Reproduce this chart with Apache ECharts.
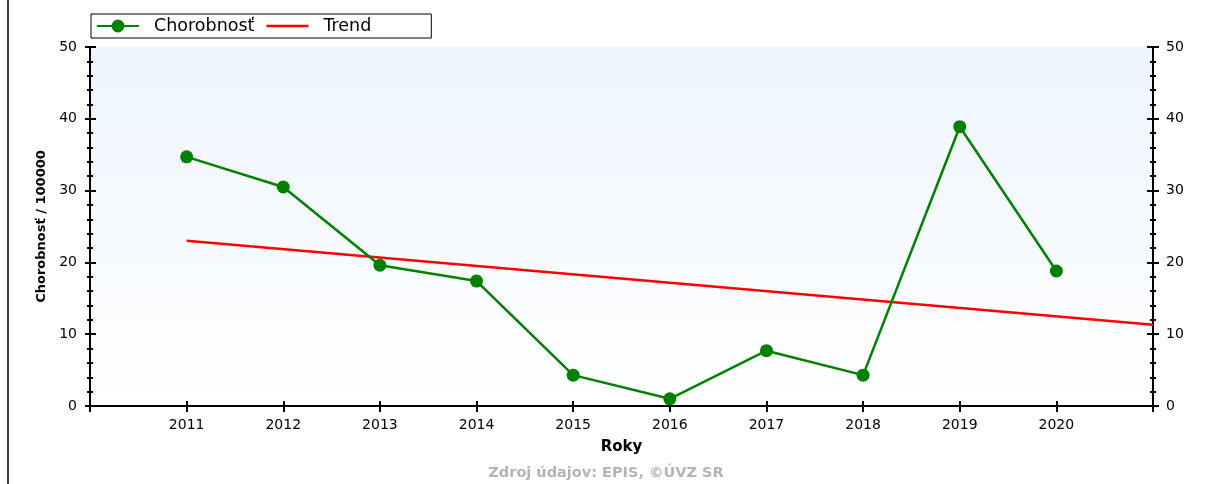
<!DOCTYPE html>
<html>
<head>
<meta charset="utf-8">
<script src="https://cdn.jsdelivr.net/npm/echarts@6/dist/echarts.min.js"></script>
<style>
  html, body { margin: 0; padding: 0; background: #fff; }
  #main { width: 1212px; height: 484px; }
</style>
</head>
<body>
<div id="main"></div>
<script>
// roky a chorobnost na 100000
const years = [2011, 2012, 2013, 2014, 2015, 2016, 2017, 2018, 2019, 2020]
const incidence = [34.7, 30.5, 19.6, 17.4, 4.3, 1.0, 7.7, 4.3, 38.9, 18.8]
// trend - koncove body odcitane z grafu
const trendYears = [2011, 2021]
const trendValues = [23.0, 11.3]
const yTicks = [0, 10, 20, 30, 40, 50]

const FONT = 'DejaVu Sans'
const tickColor = '#000'

let chart = echarts.init(document.getElementById('main'))

// spolocne nastavenie osi (ciara + ticky)
const axisLine = { show: true, lineStyle: { color: tickColor, width: 2 } }

let option = {
  backgroundColor: '#fff',
  animation: false,
  textStyle: { fontFamily: FONT },
  legend: {
    left: 91,
    top: 14,
    padding: [3, 60, 3, 5],
    itemGap: 12,
    itemWidth: 42,
    itemHeight: 16,
    borderColor: '#000',
    borderWidth: 1,
    borderRadius: 0,
    textStyle: { fontSize: 17.5, color: '#000', fontFamily: FONT, padding: [0, 0, 0, 10], lineHeight: 16 },
    data: [
      { name: 'Chorobnosť' },
      { name: 'Trend', icon: 'path://M0,0H42V2.5H0Z', itemStyle: { color: '#ff0000' } }
    ]
  },
  grid: {
    left: 90,
    right: 59,
    top: 47,
    bottom: 78,
    show: true,
    borderWidth: 0,
    backgroundColor: new echarts.graphic.LinearGradient(0, 0, 0, 1, [
      { offset: 0, color: '#edf5fd' },
      { offset: 1, color: '#ffffff' }
    ])
  },
  xAxis: [
    {
      type: 'value',
      position: 'bottom',
      min: 2010,
      max: 2021,
      interval: 1,
      name: 'Roky',
      nameLocation: 'middle',
      nameGap: 34,
      nameTextStyle: { fontWeight: 'bold', fontSize: 15, color: '#000' },
      axisLine: axisLine,
      axisTick: { show: true, length: 5, lineStyle: { color: tickColor, width: 2 } },
      axisLabel: {
        fontSize: 14,
        color: '#000',
        margin: 12,
        formatter: v => (years.indexOf(v) >= 0 ? String(v) : '')
      },
      splitLine: { show: false }
    },
    {
      // ticky dovnutra na dolnej osi
      type: 'value',
      position: 'bottom',
      min: 2010,
      max: 2021,
      interval: 1,
      axisLine: axisLine,
      axisTick: { show: true, inside: true, length: 5, lineStyle: { color: tickColor, width: 2 } },
      axisLabel: { show: false },
      splitLine: { show: false }
    },
    {
      type: 'value',
      position: 'top',
      min: 2010,
      max: 2021,
      interval: 1,
      axisLine: axisLine,
      axisTick: { show: true, inside: true, length: 6, lineStyle: { color: tickColor, width: 2 } },
      axisLabel: { show: false },
      splitLine: { show: false }
    }
  ],
  yAxis: [
    {
      type: 'value',
      position: 'left',
      min: yTicks[0],
      max: yTicks[yTicks.length - 1],
      interval: 10,
      name: 'Chorobnosť / 100000',
      nameLocation: 'middle',
      nameGap: 38,
      nameRotate: 90,
      nameTextStyle: { fontWeight: 'bold', fontSize: 13, color: '#000' },
      axisLine: axisLine,
      axisTick: { show: true, length: 5, lineStyle: { color: tickColor, width: 2 } },
      minorTick: { show: true, splitNumber: 5, length: 3, lineStyle: { color: tickColor, width: 2 } },
      axisLabel: { fontSize: 14, color: '#000', margin: 13 },
      splitLine: { show: false }
    },
    {
      type: 'value',
      position: 'left',
      min: yTicks[0],
      max: yTicks[yTicks.length - 1],
      interval: 10,
      axisLine: axisLine,
      axisTick: { show: true, inside: true, length: 6, lineStyle: { color: tickColor, width: 2 } },
      minorTick: { show: true, splitNumber: 5, length: 3, lineStyle: { color: tickColor, width: 2 } },
      axisLabel: { show: false },
      splitLine: { show: false }
    },
    {
      type: 'value',
      position: 'right',
      min: yTicks[0],
      max: yTicks[yTicks.length - 1],
      interval: 10,
      axisLine: axisLine,
      axisTick: { show: true, length: 6, lineStyle: { color: tickColor, width: 2 } },
      minorTick: { show: true, splitNumber: 5, length: 3, lineStyle: { color: tickColor, width: 2 } },
      axisLabel: { fontSize: 14, color: '#000', margin: 13 },
      splitLine: { show: false }
    },
    {
      type: 'value',
      position: 'right',
      min: yTicks[0],
      max: yTicks[yTicks.length - 1],
      interval: 10,
      axisLine: axisLine,
      axisTick: { show: true, inside: true, length: 6, lineStyle: { color: tickColor, width: 2 } },
      minorTick: { show: true, splitNumber: 5, length: 3, lineStyle: { color: tickColor, width: 2 } },
      axisLabel: { show: false },
      splitLine: { show: false }
    }
  ],
  graphic: [
    {
      // lava hranica obrazka
      type: 'line',
      shape: { x1: 8, y1: 0, x2: 8, y2: 484 },
      style: { stroke: '#000', lineWidth: 1.5 }
    },
    {
      type: 'text',
      left: 'center',
      top: 466,
      style: {
        text: 'Zdroj údajov: EPIS, ©ÚVZ SR',
        fill: '#b4b4b4',
        font: 'bold 14.5px ' + FONT
      }
    }
  ],
  series: [
    {
      name: 'Trend',
      type: 'line',
      xAxisIndex: 0,
      yAxisIndex: 0,
      data: trendYears.map((y, i) => [y, trendValues[i]]),
      symbol: 'none',
      lineStyle: { color: '#ff0000', width: 2.5 },
      itemStyle: { color: '#ff0000' },
      z: 2
    },
    {
      name: 'Chorobnosť',
      type: 'line',
      xAxisIndex: 0,
      yAxisIndex: 0,
      data: years.map((y, i) => [y, incidence[i]]),
      symbol: 'circle',
      symbolSize: 13,
      lineStyle: { color: '#008000', width: 2.5 },
      itemStyle: { color: '#008000' },
      z: 3
    }
  ]
}

chart.setOption(option)
</script>
</body>
</html>
